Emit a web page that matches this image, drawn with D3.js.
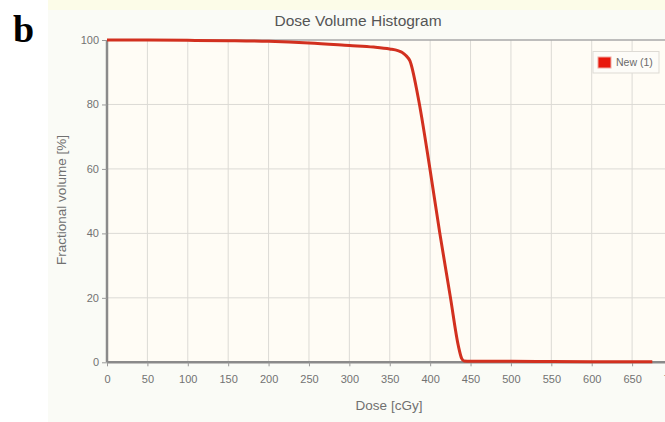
<!DOCTYPE html>
<html><head><meta charset="utf-8">
<script src="https://cdn.jsdelivr.net/npm/d3@7"></script>
<style>body{margin:0;background:#fff}svg{display:block}</style>
</head><body>
<svg id="c" width="665" height="422"></svg>
<script>
const dose   = [0,50,100,150,200,250,300,330,350,360,365,370,375,385,400,412,425,435,439,442,450,500,550,600,650,675];
const volume = [100,100,99.9,99.8,99.6,99.1,98.3,97.8,97.2,96.7,96.2,95.2,93.5,82.4,59.6,40,20.3,5,1.2,0.4,0.3,0.3,0.25,0.2,0.2,0.2];
const xTicks = [0,50,100,150,200,250,300,350,400,450,500,550,600,650,700];
const yTicks = [0,20,40,60,80,100];
const seriesName = "New (1)";
const title = "Dose Volume Histogram";
const xLabel = "Dose [cGy]";
const yLabel = "Fractional volume [%]";

const svg = d3.select("#c");
const font = "'Liberation Sans', Arial, sans-serif";
svg.append("rect").attr("x",48).attr("y",0).attr("width",617).attr("height",422).attr("fill","#fafbf6");
svg.append("rect").attr("x",48).attr("y",0).attr("width",617).attr("height",10).attr("fill","#fcfce8");

const x = d3.scaleLinear().domain([0,700]).range([107,672.5]);
const y = d3.scaleLinear().domain([0,100]).range([362.3,40]);

svg.append("rect").attr("x",x(0)).attr("y",y(100)).attr("width",x(700)-x(0)).attr("height",y(0)-y(100)).attr("fill","#fffcf5");

svg.append("g").selectAll("line").data(xTicks.slice(1)).join("line")
  .attr("x1",d=>x(d)).attr("x2",d=>x(d)).attr("y1",y(100)).attr("y2",y(0))
  .attr("stroke","#dcdad5").attr("stroke-width",1);
svg.append("g").selectAll("line").data(yTicks.slice(1,-1)).join("line")
  .attr("x1",x(0)).attr("x2",x(700)).attr("y1",d=>y(d)).attr("y2",d=>y(d))
  .attr("stroke","#dcdad5").attr("stroke-width",1);
svg.append("line").attr("x1",x(0)).attr("x2",x(700)).attr("y1",y(100)).attr("y2",y(100)).attr("stroke","#a8a8a8").attr("stroke-width",1.5);

const xa = svg.append("g").attr("transform",`translate(0,${y(0)})`)
  .call(d3.axisBottom(x).tickValues(xTicks).tickSize(4).tickPadding(9));
const ya = svg.append("g").attr("transform",`translate(${x(0)},0)`)
  .call(d3.axisLeft(y).tickValues(yTicks).tickSize(5).tickPadding(3));
[xa,ya].forEach(a=>{
  a.select(".domain").attr("stroke","#8a8a8a").attr("stroke-width",2.5);
  a.selectAll(".tick line").attr("stroke","#9a9a9a");
  a.selectAll("text").attr("fill","#727272").attr("font-family",font).attr("font-size",11);
});
xa.select(".domain").attr("d",`M${x(0)},0H${x(700)}`);
ya.select(".domain").attr("d",`M0,${y(0)}V${y(100)}`);

const line = d3.line().x((d,i)=>x(dose[i])).y((d,i)=>y(volume[i])).curve(d3.curveMonotoneX);
svg.append("path").datum(volume).attr("d",line).attr("fill","none")
  .attr("stroke","#d2301f").attr("stroke-width",3).attr("stroke-linejoin","round");

const lg = svg.append("g");
lg.append("rect").attr("x",593).attr("y",51.5).attr("width",66).attr("height",21.5).attr("fill","#fdfcf8").attr("stroke","#dedbd5");
lg.append("rect").attr("x",598).attr("y",57).attr("width",13).attr("height",11).attr("fill","#e8180c").attr("stroke","#f0a8a0");
lg.append("text").attr("x",616).attr("y",66).text(seriesName).attr("font-family",font).attr("font-size",10.5).attr("fill","#6a6a6a");

svg.append("text").attr("x",358).attr("y",26).attr("text-anchor","middle").text(title)
  .attr("font-family",font).attr("font-size",15.5).attr("fill","#555");
svg.append("text").attr("x",389).attr("y",410).attr("text-anchor","middle").text(xLabel)
  .attr("font-family",font).attr("font-size",13.5).attr("fill","#707070");
svg.append("text").attr("transform","translate(66,200) rotate(-90)").attr("text-anchor","middle").text(yLabel)
  .attr("font-family",font).attr("font-size",13.5).attr("fill","#707070");
svg.append("text").attr("x",13).attr("y",42).text("b")
  .attr("font-family","'Liberation Serif', 'Times New Roman', serif").attr("font-weight","bold").attr("font-size",38).attr("fill","#000");
</script>
</body></html>
